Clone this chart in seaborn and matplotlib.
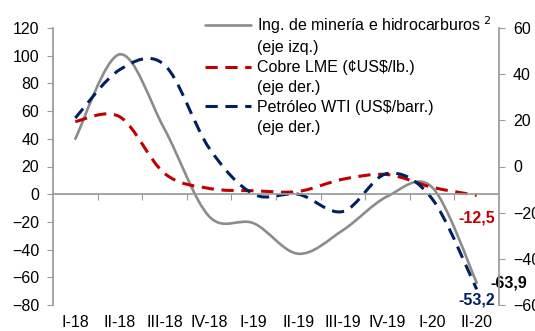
import numpy as np
import matplotlib
matplotlib.use("Agg")
import matplotlib.pyplot as plt
import seaborn as sns
from matplotlib.path import Path
from matplotlib.transforms import Affine2D
from matplotlib.patheffects import AbstractPathEffect
from matplotlib.lines import Line2D

# Data (quarterly, % change)
quarters = ["I-18", "II-18", "III-18", "IV-18", "I-19", "II-19", "III-19", "IV-19", "I-20", "II-20"]
mining = [40, 101, 47, -16, -21, -43, -26, -1.5, 5, -63.9]        # left axis
copper = [19.5, 21.5, -3, -9.5, -10.5, -10.8, -5.5, -3.5, -9, -12.5]  # right axis
oil = [21, 42, 44, 8, -12, -12, -19.5, -3, -14, -53.2]              # right axis

series_names = ["Ing. de minería e hidrocarburos $^{2}$", "Cobre LME (¢US\\$/lb.)", "Petróleo WTI (US\\$/barr.)"]
axis_notes = ["(eje izq.)", "(eje der.)", "(eje der.)"]

gray = "#8c8c8c"
red = "#c00000"
navy = "#002060"
spine_col = "#9a9a9a"
dash = (0, (4, 2.5))


class SmoothLine(AbstractPathEffect):
    """Render the polyline as a smoothed (Excel-like) bezier curve."""

    def draw_path(self, renderer, gc, tpath, affine, rgbFace=None):
        p = affine.transform(tpath.vertices)
        if len(p) < 3:
            renderer.draw_path(gc, tpath, affine, rgbFace)
            return
        ext = np.vstack([p[0], p, p[-1]])
        verts = [p[0]]
        codes = [Path.MOVETO]
        for i in range(1, len(ext) - 2):
            p0, p1, p2, p3 = ext[i - 1], ext[i], ext[i + 1], ext[i + 2]
            verts += [p1 + (p2 - p0) / 6, p2 - (p3 - p1) / 6, p2]
            codes += [Path.CURVE4] * 3
        renderer.draw_path(gc, Path(np.array(verts), codes), Affine2D(), rgbFace)


sns.set_theme(style="white", rc={"text.color": "black", "xtick.color": "black", "ytick.color": "black"})
plt.rcParams["font.family"] = ["Liberation Sans", "DejaVu Sans"]
plt.rcParams["font.size"] = 11.5

fig = plt.figure(figsize=(5.35, 3.31), dpi=100)
ax = fig.add_axes([53 / 535, 1 - 305 / 331, (499 - 53) / 535, (305 - 28) / 331])
ax2 = ax.twinx()

x = np.arange(len(quarters))
sns.lineplot(x=x, y=mining, ax=ax, color=gray, linewidth=1.9, legend=False)
sns.lineplot(x=x, y=copper, ax=ax2, color=red, linewidth=2.2, linestyle=dash, legend=False)
sns.lineplot(x=x, y=oil, ax=ax2, color=navy, linewidth=2.2, linestyle=dash, legend=False)
for line in ax.lines + ax2.lines:
    line.set_path_effects([SmoothLine()])

ax.set_xlim(-0.5, len(quarters) - 0.5)
ax.set_ylim(-80, 120)
ax2.set_ylim(-60, 60)
ax.set_yticks(range(-80, 121, 20))
ax2.set_yticks(range(-60, 61, 20))
ax.set_xticks(x)
ax.set_xticklabels(quarters)
ax.set_xticks(x[:-1] + 0.5, minor=True)

for s in ["top", "right", "bottom"]:
    ax.spines[s].set_visible(False)
for s in ["top", "left"]:
    ax2.spines[s].set_visible(False)
ax.spines["left"].set_color(spine_col)
ax2.spines["right"].set_color(spine_col)
# category axis sits on the zero of the left scale
ax2.xaxis.set_visible(True)
ax2.spines["bottom"].set_position(("axes", 0.4))
ax2.spines["bottom"].set_color(spine_col)

ax.tick_params(axis="y", left=True, length=4, width=0.8, color=spine_col, pad=6, labelsize=11.5)
ax.tick_params(axis="x", which="major", bottom=True, length=0, pad=7, labelsize=11.5)
ax.tick_params(axis="x", which="minor", bottom=False)
ax2.tick_params(axis="y", right=True, length=4, width=0.8, color=spine_col, pad=6, labelsize=11.5)
ax2.tick_params(axis="x", which="major", bottom=False, labelbottom=False)
ax2.tick_params(axis="x", which="minor", bottom=True, length=4, width=0.8, color=spine_col)
ax.grid(False)
ax2.grid(False)
ax.set_xlabel("")
ax.set_ylabel("")
ax2.set_ylabel("")

# end-of-series value labels
ax2.annotate(f"{copper[-1]:.1f}".replace(".", ","), xy=(x[-1], copper[-1]), xytext=(0, -16),
             textcoords="offset points", ha="center", va="center", color=red, fontweight="bold")
ax.annotate(f"{mining[-1]:.1f}".replace(".", ","), xy=(x[-1], mining[-1]), xytext=(10, 0),
            textcoords="offset points", ha="left", va="center", color="black", fontweight="bold")
ax2.annotate(f"{oil[-1]:.1f}".replace(".", ","), xy=(x[-1], oil[-1]), xytext=(0, -8),
             textcoords="offset points", ha="center", va="center", color=navy, fontweight="bold")

blank = Line2D([], [], color="none")
handles = [Line2D([], [], color=gray, lw=1.9), blank,
           Line2D([], [], color=red, lw=2.2, ls=dash), blank,
           Line2D([], [], color=navy, lw=2.2, ls=dash), blank]
labels = [series_names[0], axis_notes[0], series_names[1], axis_notes[1], series_names[2], axis_notes[2]]
fig.legend(handles, labels, loc="upper left", bbox_to_anchor=(205 / 535, 1 - 14 / 331),
           bbox_transform=fig.transFigure, frameon=False, fontsize=11.5, handlelength=2.9,
           handletextpad=0.35, labelspacing=0.3, borderpad=0, borderaxespad=0)

fig.savefig("out.png", dpi=100)
